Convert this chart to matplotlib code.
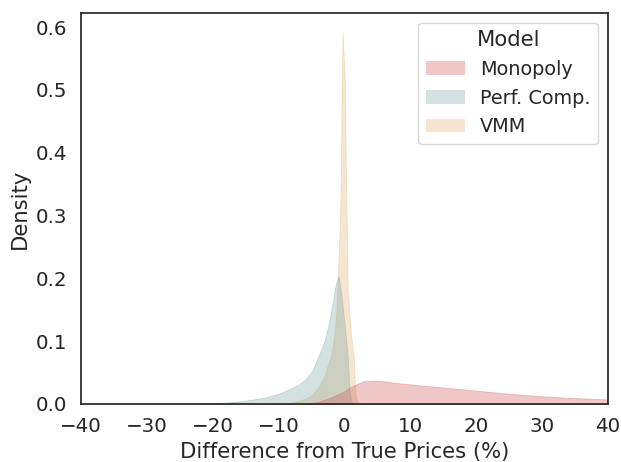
import matplotlib
matplotlib.use("Agg")
import matplotlib.pyplot as plt
import seaborn as sns
from matplotlib.patches import Patch

# density curves (x in %, density)
MODELS = ["Monopoly", "Perf. Comp.", "VMM"]
COLORS = ["#cd4848", "#709e9b", "#deac69"]

mono_x = [-6, -4, -2, 0, 1, 2, 3, 4.3, 6, 8, 10, 13, 16, 20, 25, 30, 35, 40]
mono_y = [0.0, 0.003, 0.010, 0.020, 0.027, 0.032, 0.036, 0.037, 0.036, 0.033,
          0.031, 0.028, 0.025, 0.021, 0.016, 0.012, 0.009, 0.007]

perf_x = [-22, -18, -15, -12, -10, -8, -7, -6, -5, -4, -3, -2.3, -1.8, -1.3,
          -0.87, -0.6, -0.3, 0.0, 0.5, 0.76, 1.0, 1.3]
perf_y = [0.0, 0.002, 0.005, 0.010, 0.016, 0.025, 0.030, 0.038, 0.050, 0.074,
          0.100, 0.131, 0.160, 0.190, 0.204, 0.185, 0.160, 0.131, 0.078, 0.025,
          0.005, 0.0]

vmm_x = [-12, -8, -6.5, -5, -4, -3, -2, -1.5, -1.2, -0.87, -0.65, -0.5, -0.4,
         -0.26, 0.1, 0.2, 0.3, 0.41, 0.5, 1.0, 1.4, 1.6, 1.8, 2.1]
vmm_y = [0.0, 0.002, 0.006, 0.013, 0.025, 0.045, 0.078, 0.110, 0.150, 0.237,
         0.293, 0.400, 0.505, 0.593, 0.505, 0.400, 0.330, 0.260, 0.185, 0.110,
         0.078, 0.030, 0.008, 0.0]

CURVES = [(mono_x, mono_y), (perf_x, perf_y), (vmm_x, vmm_y)]
ALPHA = 0.3

sns.set_theme(style="white")
plt.rcParams["font.family"] = ["DejaVu Sans"]

fig, ax = plt.subplots(figsize=(6.21, 4.62), dpi=100)
fig.subplots_adjust(left=0.130, right=0.979, top=0.972, bottom=0.126)

# seaborn layers hue levels in reverse order
for name, color, (xs, ys) in reversed(list(zip(MODELS, COLORS, CURVES))):
    ax.fill_between(xs, ys, 0, facecolor=color, alpha=ALPHA,
                    edgecolor=color, linewidth=0.6, label=name)

ax.set_xlim(-40, 40)
ax.set_ylim(0, max(vmm_y) * 1.05)
ax.set_xticks([-40, -30, -20, -10, 0, 10, 20, 30, 40])
ax.tick_params(labelsize=14.3)
ax.set_xlabel("Difference from True Prices (%)", fontsize=15.2)
ax.set_ylabel("Density", fontsize=15.2)

handles = [Patch(facecolor=c, alpha=ALPHA, edgecolor="none", label=m)
           for m, c in zip(MODELS, COLORS)]
ax.legend(handles=handles, title="Model", loc="upper right",
          fontsize=13.9, title_fontsize=15.2)

fig.savefig("out.png", dpi=100)
